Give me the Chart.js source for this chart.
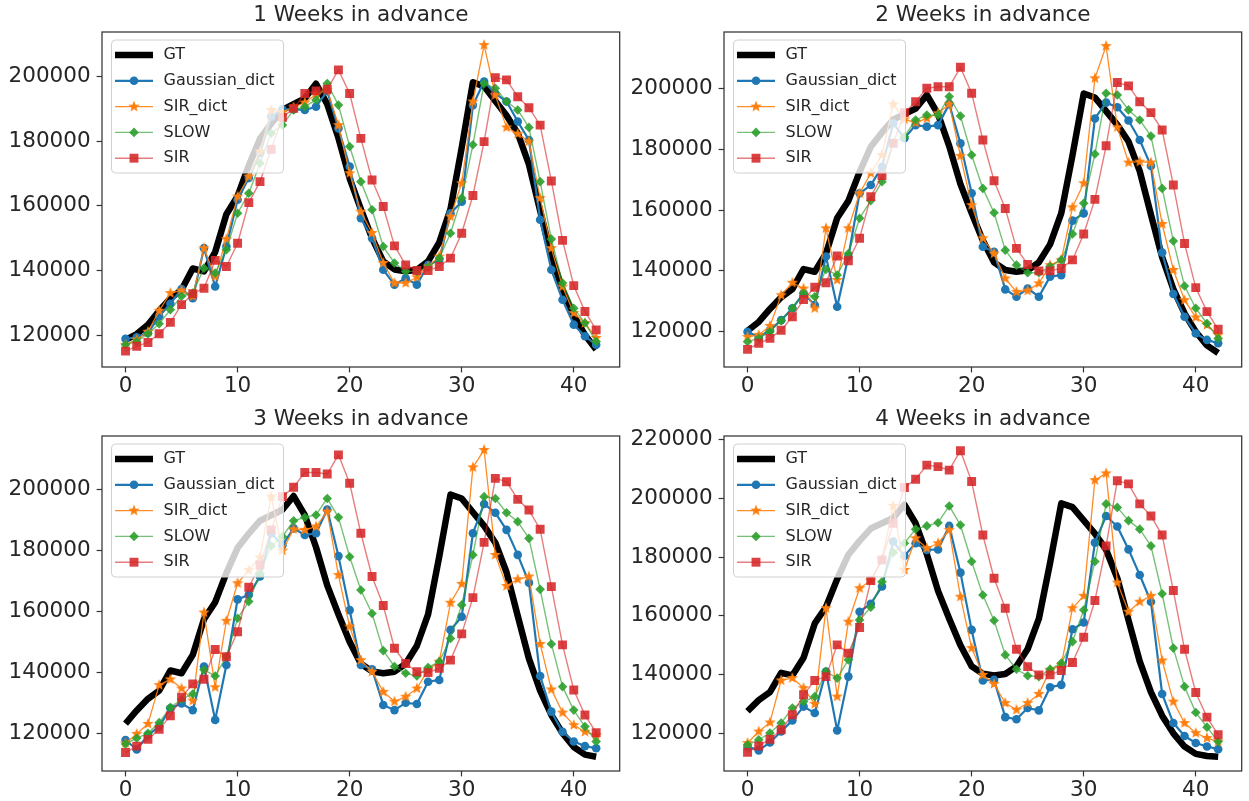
<!DOCTYPE html>
<html>
<head>
<meta charset="utf-8">
<script src="https://cdn.jsdelivr.net/npm/chart.js@4.4.0/dist/chart.umd.min.js"></script>
<style>
  body { margin: 0; background: #fff; width: 1249px; height: 801px; overflow: hidden; position: relative; }
  canvas { position: absolute; }
</style>
</head>
<body>
<canvas id="c1" width="626" height="401" style="left:0px;top:0px"></canvas>
<canvas id="c2" width="626" height="401" style="left:622px;top:0px"></canvas>
<canvas id="c3" width="626" height="401" style="left:0px;top:404px"></canvas>
<canvas id="c4" width="626" height="401" style="left:622px;top:404px"></canvas>
<script>
var weeks = [0,1,2,3,4,5,6,7,8,9,10,11,12,13,14,15,16,17,18,19,20,21,22,23,24,25,26,27,28,29,30,31,32,33,34,35,36,37,38,39,40,41,42]
var seriesNames = ['GT', 'Gaussian_dict', 'SIR_dict', 'SLOW', 'SIR']
var xTicks = [0, 10, 20, 30, 40]
var yTicks = [120000, 140000, 160000, 180000, 200000]
var yTicks4 = [120000, 140000, 160000, 180000, 200000, 220000]

// ground truth, one week shift per panel
var gt1 = [118500,120300,123200,127500,131300,134000,140600,139700,145700,157400,163000,172500,180800,185500,189700,191500,193300,197800,191500,181000,168500,159000,150000,142800,140300,139700,140200,142800,148700,159000,178000,198300,197000,192500,188000,182500,172800,158500,144500,134000,126000,120000,115500]
var gt2 = [120300,123200,127500,131300,134000,140600,139700,145700,157400,163000,172500,180800,185500,189700,191500,193300,197800,191500,181000,168500,159000,150000,142800,140300,139700,140200,142800,148700,159000,178000,198300,197000,192500,188000,182500,172800,158500,144500,134000,126000,120000,115500,113000]
var gt3 = [123200,127500,131300,134000,140600,139700,145700,157400,163000,172500,180800,185500,189700,191500,193300,197800,191500,181000,168500,159000,150000,142800,140300,139700,140200,142800,148700,159000,178000,198300,197000,192500,188000,182500,172800,158500,144500,134000,126000,120000,115500,113000,112300]
var gt4 = [127500,131300,134000,140600,139700,145700,157400,163000,172500,180800,185500,189700,191500,193300,197800,191500,181000,168500,159000,150000,142800,140300,139700,140200,142800,148700,159000,178000,198300,197000,192500,188000,182500,172800,158500,144500,134000,126000,120000,115500,113000,112300,112000]

var gauss1 = [118800,119300,120600,125800,129700,134200,131400,146900,135000,147400,161900,168600,176300,187600,189900,189900,189700,190700,195500,184000,172200,156200,150000,140200,135600,137600,135600,141700,143300,157700,161300,191200,198500,194800,192300,186100,180400,155700,140200,130900,123200,119600,117000]
var sirdict1 = [117000,118600,121000,127500,133000,133800,132000,146900,138100,149700,162900,169100,176800,189700,189000,190500,192000,194500,196000,185000,170100,158200,151600,142300,136100,136100,137900,141200,144300,156700,167000,192300,209800,194300,184300,182300,179900,162400,146900,135000,126800,123700,119100]
var slow1 = [117000,118000,120400,123500,127800,132000,133000,140700,139200,146400,157700,163900,173200,182500,185000,189700,190700,192800,197900,191200,178400,167500,158800,147400,142300,139700,139700,141000,143800,151500,162400,178900,197900,196400,192300,189700,184300,167500,149700,136100,128300,123700,118000]
var sir1 = [115000,116500,117700,120400,123900,129400,132800,134500,143100,141200,148400,161000,167500,177500,187400,190200,194800,195600,196100,202100,194800,180900,168000,159800,147600,141700,140000,140000,141200,143800,151500,163200,179900,199700,199000,193800,190400,185000,167700,149300,135300,127300,121600]

var gauss2 = [120000,118300,120500,123800,127700,132600,128800,144700,128200,144700,165500,168200,174200,188500,183600,187900,187400,187900,194800,181900,165500,147900,146300,133900,131500,134200,131500,138100,138600,156500,158900,190100,195300,193800,189400,183000,174500,146000,132400,124900,119400,117300,116200]
var sirdict2 = [118300,118900,121900,132000,136100,134200,127700,154000,137000,154000,165500,172100,178100,194800,189800,188700,190100,191800,194800,177800,161600,150700,145700,137500,133100,133500,135900,141900,143600,160900,168800,203300,213900,187200,175600,175900,175600,155400,140300,130400,124700,122200,118900]
var slow2 = [116700,117800,120000,123600,127700,132600,131500,140500,138600,145700,157300,163100,169300,182100,184100,189600,191200,191200,197300,190900,178100,167100,159100,146800,141900,139400,139400,141400,143600,152100,162200,178400,198400,197800,192900,189600,184300,167100,149800,135000,127700,122700,117800]
var sir2 = [114200,116200,117800,120500,124900,130600,134600,136100,144900,143300,150700,164400,171300,181900,192000,195600,200000,200500,200500,206900,198400,183000,169600,160500,147400,142100,140000,140000,140800,143600,152100,163500,181100,201900,200800,195600,192000,186300,168200,149000,134500,126600,120800]

var gauss3 = [117800,114700,119400,122200,128200,129800,127600,141900,124400,142400,163900,165400,171400,185600,181700,187200,185000,185600,193400,178100,160400,142400,141000,129300,127600,130000,129600,136900,137500,153900,158200,185600,195200,192300,186700,178500,169400,138800,127100,120500,117300,115800,115100]
var sirdict3 = [116700,119800,123100,135800,137700,134700,130700,159600,135100,156900,169200,173500,177700,197600,179900,186900,186700,187800,192700,171900,155000,144000,140200,133600,130400,132000,134700,140800,143500,162800,169000,207200,212900,178500,168300,170500,171400,149300,134400,126800,122700,120500,119400]
var slow3 = [116500,118400,120000,123500,128500,131100,132900,140800,138800,145100,157700,163200,172500,181400,184500,189700,190800,191600,197000,190800,177900,167000,159300,147100,141900,139700,138800,141600,143500,151100,162100,178500,197600,197000,192300,189400,183900,167200,149300,135300,127600,122200,117300]
var sir3 = [113700,115800,118000,121300,125700,131800,136200,137700,147500,145100,153300,167900,175200,186700,197600,200700,205500,205500,205000,211300,202000,185600,171400,161900,147900,142900,140200,139900,141300,144000,152600,164500,182600,203600,202500,196700,193200,186900,168100,149000,134200,126000,120200]

var gauss4 = [115500,114200,116900,120600,124400,129100,126900,141000,121000,139300,161400,164100,170000,185300,180400,184700,182400,182600,190600,174700,155200,138000,138200,125500,124800,128600,127800,135700,136500,155400,157700,184900,194000,190400,182600,173900,164800,133400,123500,119100,116700,115500,114600]
var sirdict4 = [116700,120600,123700,138000,138800,135400,130000,162600,132500,158000,169400,172000,179200,197400,175600,186400,183000,184700,189200,166500,149000,139900,136800,130300,128000,130300,133400,141600,143300,162600,166800,206200,208500,171300,161400,164800,166800,144800,130800,123500,120100,118400,117200]
var slow4 = [116100,117800,120100,123500,128600,130800,132500,141000,138800,145000,158600,162900,171600,181500,184700,189500,190600,191700,197400,190900,178500,167100,158400,146700,141800,139600,139300,141800,143900,151200,162000,178500,198100,196900,192400,189500,183800,167500,149000,135900,127100,122100,117200]
var sir4 = [113500,115700,118000,121200,126300,133100,138000,139300,150100,147300,156000,172000,179000,191500,203700,206500,211300,210800,209600,216200,205700,187500,172800,162600,148600,142700,139900,139900,141400,144100,152700,165200,183800,206000,204900,198100,194000,187500,168600,148600,133900,125500,119500]

var FONT = 'DejaVu Sans'
var TEXT = '#262626'

// filled five point star like matplotlib '*'
function starImage(color, r) {
    var c = document.createElement('canvas')
    c.width = 14; c.height = 14
    var ctx = c.getContext('2d')
    ctx.fillStyle = color
    ctx.beginPath()
    for (var k = 0; k < 10; k++) {
        var rad = k % 2 === 0 ? r : r * 0.42
        var a = -Math.PI / 2 + k * Math.PI / 5
        var px = 7 + rad * Math.cos(a), py = 7 + rad * Math.sin(a)
        if (k === 0) ctx.moveTo(px, py); else ctx.lineTo(px, py)
    }
    ctx.closePath()
    ctx.fill()
    return c
}
var starImg = starImage('#ff7f0e', 6)

var styles = {
    'GT': { line: '#000000', fill: '#000000', width: 6.5, point: null, r: 0 },
    'Gaussian_dict': { line: '#1f77b4', fill: '#1f77b4', width: 2.2, point: 'circle', r: 4.3 },
    'SIR_dict': { line: 'rgba(255,127,14,0.9)', fill: '#ff7f0e', width: 1.3, point: starImg, r: 5 },
    'SLOW': { line: 'rgba(44,160,44,0.65)', fill: 'rgba(44,160,44,0.9)', width: 1.4, point: 'rectRot', r: 4.8 },
    'SIR': { line: 'rgba(214,39,40,0.6)', fill: 'rgba(214,39,40,0.88)', width: 1.4, point: 'rect', r: 6.3 }
}

function drawMarker(ctx, name, x, y) {
    var s = styles[name]
    ctx.fillStyle = s.fill
    ctx.beginPath()
    if (s.point === 'circle') {
        ctx.arc(x, y, s.r, 0, Math.PI * 2)
    } else if (s.point === 'rect') {
        var h = s.r * Math.SQRT1_2
        ctx.rect(x - h, y - h, 2 * h, 2 * h)
    } else if (s.point === 'rectRot') {
        ctx.moveTo(x, y - s.r); ctx.lineTo(x + s.r, y); ctx.lineTo(x, y + s.r); ctx.lineTo(x - s.r, y); ctx.closePath()
    } else if (s.point === starImg) {
        ctx.drawImage(starImg, x - 7, y - 7)
        return
    } else {
        return
    }
    ctx.fill()
}

var framePlugin = {
    id: 'frameAndLegend',
    afterDatasetsDraw: function(chart) {
        var a = chart.chartArea, ctx = chart.ctx
        ctx.save()
        ctx.strokeStyle = '#333'
        ctx.lineWidth = 1.25
        ctx.strokeRect(a.left, a.top, a.right - a.left, a.bottom - a.top)

        // legend box, upper left
        var bx = a.left + 9.5, by = a.top + 8, bw = 172, bh = 133, rr = 4
        ctx.beginPath()
        ctx.moveTo(bx + rr, by)
        ctx.arcTo(bx + bw, by, bx + bw, by + bh, rr)
        ctx.arcTo(bx + bw, by + bh, bx, by + bh, rr)
        ctx.arcTo(bx, by + bh, bx, by, rr)
        ctx.arcTo(bx, by, bx + bw, by, rr)
        ctx.closePath()
        ctx.fillStyle = 'rgba(255,255,255,0.8)'
        ctx.fill()
        ctx.strokeStyle = '#d0d0d0'
        ctx.lineWidth = 1
        ctx.stroke()

        ctx.font = '16px ' + FONT
        ctx.textBaseline = 'middle'
        seriesNames.forEach(function(name, k) {
            var y = a.top + 23 + k * 25.8
            var s = styles[name]
            ctx.strokeStyle = s.line
            ctx.lineWidth = s.width
            ctx.lineCap = 'butt'
            ctx.beginPath()
            ctx.moveTo(a.left + 13, y)
            ctx.lineTo(a.left + 51, y)
            ctx.stroke()
            drawMarker(ctx, name, a.left + 32, y)
            ctx.fillStyle = TEXT
            ctx.fillText(name, a.left + 61.5, y)
        })
        ctx.restore()
    }
}

function pts(vals) {
    return vals.map(function(v, i) { return { x: weeks[i], y: v } })
}

function makeChart(id, title, yMin, yMax, ticksY, values) {
    var datasets = []
    // last series first so that SIR ends up on top, like matplotlib
    for (var k = seriesNames.length - 1; k >= 0; k--) {
        var name = seriesNames[k]
        var s = styles[name]
        datasets.push({
            label: name,
            data: pts(values[k]),
            borderColor: s.line,
            borderWidth: s.width,
            borderJoinStyle: 'round',
            backgroundColor: s.fill,
            pointStyle: s.point || 'circle',
            pointRadius: s.point ? s.r : 0,
            pointBackgroundColor: s.fill,
            pointBorderWidth: 0,
            tension: 0,
            fill: false
        })
    }
    var tickFont = { family: FONT, size: 21.5 }
    return new Chart(document.getElementById(id).getContext('2d'), {
        type: 'line',
        data: { datasets: datasets },
        options: {
            responsive: false,
            animation: false,
            events: [],
            layout: { padding: { left: 0, right: 6, top: 0, bottom: 0 } },
            plugins: {
                legend: { display: false },
                tooltip: { enabled: false },
                title: {
                    display: true, text: title, fullSize: false, color: TEXT,
                    font: { family: FONT, size: 21.5, weight: 'normal' },
                    padding: { top: 3, bottom: 3.2 }
                }
            },
            scales: {
                x: {
                    type: 'linear', min: -2.1, max: 44.1, bounds: 'data',
                    afterFit: function(sc) { sc.height = 34 },
                    afterBuildTicks: function(sc) { sc.ticks = xTicks.map(function(v) { return { value: v } }) },
                    border: { display: false },
                    grid: { drawOnChartArea: false, drawTicks: true, tickLength: 5.4, tickWidth: 1.2, tickColor: '#333' },
                    ticks: { color: TEXT, font: tickFont, padding: 1, maxRotation: 0, callback: function(v) { return String(v) } }
                },
                y: {
                    type: 'linear', min: yMin, max: yMax, bounds: 'data',
                    afterFit: function(sc) { sc.width = 102 },
                    afterBuildTicks: function(sc) { sc.ticks = ticksY.map(function(v) { return { value: v } }) },
                    border: { display: false },
                    grid: { drawOnChartArea: false, drawTicks: true, tickLength: 5.4, tickWidth: 1.2, tickColor: '#333' },
                    ticks: { color: TEXT, font: tickFont, padding: 6, callback: function(v) { return String(v) } }
                }
            }
        },
        plugins: [framePlugin]
    })
}

makeChart('c1', '1 Weeks in advance', 110090, 213840, yTicks, [gt1, gauss1, sirdict1, slow1, sir1])
makeChart('c2', '2 Weeks in advance', 108400, 218510, yTicks, [gt2, gauss2, sirdict2, slow2, sir2])
makeChart('c3', '3 Weeks in advance', 107640, 217480, yTicks, [gt3, gauss3, sirdict3, slow3, sir3])
makeChart('c4', '4 Weeks in advance', 107170, 221210, yTicks4, [gt4, gauss4, sirdict4, slow4, sir4])
</script>
</body>
</html>
